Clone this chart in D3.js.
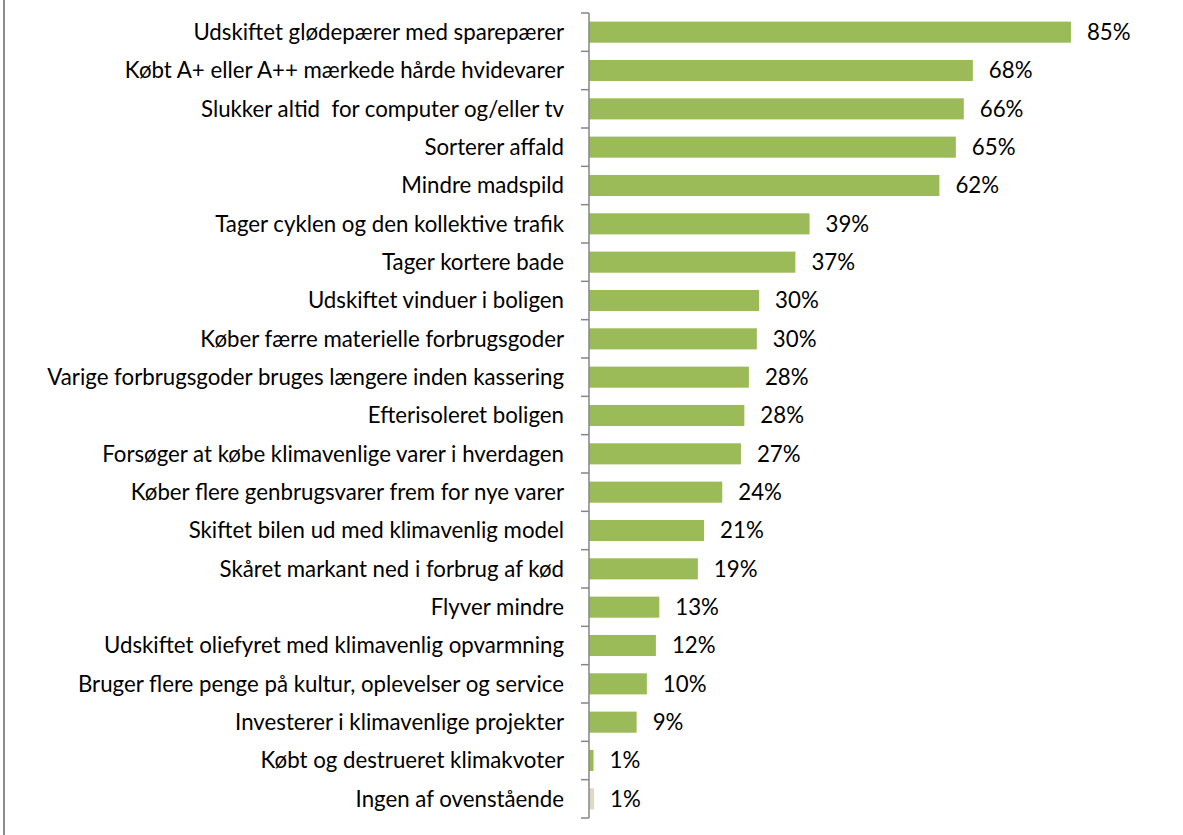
<!DOCTYPE html>
<html>
<head>
<meta charset="utf-8">
<script src="https://cdn.jsdelivr.net/npm/d3@7"></script>
<style>
  html, body { margin: 0; padding: 0; background: #fff; }
  svg { display: block; }
</style>
</head>
<body>
<svg id="chart" width="1183" height="835"></svg>
<script>
const categories = [
  "Udskiftet glødepærer med sparepærer",
  "Købt A+ eller A++ mærkede hårde hvidevarer",
  "Slukker altid  for computer og/eller tv",
  "Sorterer affald",
  "Mindre madspild",
  "Tager cyklen og den kollektive trafik",
  "Tager kortere bade",
  "Udskiftet vinduer i boligen",
  "Køber færre materielle forbrugsgoder",
  "Varige forbrugsgoder bruges længere inden kassering",
  "Efterisoleret boligen",
  "Forsøger at købe klimavenlige varer i hverdagen",
  "Køber flere genbrugsvarer frem for nye varer",
  "Skiftet bilen ud med klimavenlig model",
  "Skåret markant ned i forbrug af kød",
  "Flyver mindre",
  "Udskiftet oliefyret med klimavenlig opvarmning",
  "Bruger flere penge på kultur, oplevelser og service",
  "Investerer i klimavenlige projekter",
  "Købt og destrueret klimakvoter",
  "Ingen af ovenstående"
];
const values = [85, 67.7, 66.1, 64.7, 61.8, 38.9, 36.4, 30.0, 29.6, 28.2, 27.4, 26.8, 23.5, 20.3, 19.2, 12.4, 11.8, 10.2, 8.4, 0.8, 0.9];
const valueLabels = ["85%", "68%", "66%", "65%", "62%", "39%", "37%", "30%", "30%", "28%", "28%", "27%", "24%", "21%", "19%", "13%", "12%", "10%", "9%", "1%", "1%"];
const xDomain = [0, 100];

const svg = d3.select("#chart");
const fontFamily = "Lato, 'Open Sans', sans-serif";
const axisX = 589, plotTop = 13, plotBottom = 818, xMax = axisX + 567;

const x = d3.scaleLinear().domain(xDomain).range([axisX, xMax]);
const y = d3.scaleBand().domain(categories).range([plotTop, plotBottom]).paddingInner(0.45).paddingOuter(0.225);
const step = (plotBottom - plotTop) / categories.length;

// left frame line
svg.append("line").attr("x1", 4).attr("x2", 4).attr("y1", 0).attr("y2", 835)
  .attr("stroke", "#8c8c8c").attr("stroke-width", 2);

// bars
svg.append("g").selectAll("rect").data(categories).join("rect")
  .attr("x", x(0))
  .attr("y", d => y(d))
  .attr("width", (d, i) => x(values[i]) - x(0))
  .attr("height", y.bandwidth())
  .attr("fill", (d, i) => i === categories.length - 1 ? "#DDD9C3" : "#9BBB59");

// axis line + ticks at band boundaries
const ax = svg.append("g").attr("stroke", "#868686").attr("stroke-width", 1.5);
ax.append("line").attr("x1", axisX).attr("x2", axisX).attr("y1", plotTop).attr("y2", plotBottom);
d3.range(categories.length + 1).forEach(i => {
  const yy = plotTop + i * step;
  ax.append("line").attr("x1", axisX - 8).attr("x2", axisX).attr("y1", yy).attr("y2", yy);
});

// category labels
const labels = svg.append("g").selectAll("text").data(categories).join("text")
  .attr("x", 564)
  .attr("y", d => y(d) + y.bandwidth() / 2)
  .attr("dy", "0.35em")
  .attr("text-anchor", "end")
  .attr("font-family", fontFamily)
  .attr("font-size", 18)
  .attr("fill", "#000")
  .style("white-space", "pre")
  .text(d => d);

// fit font size to match reference width of longest label (~517px)
const longest = labels.nodes()[9];
const w = longest.getComputedTextLength();
const fs = 18 * 517 / w;
labels.attr("font-size", fs);

// value labels
svg.append("g").selectAll("text").data(categories).join("text")
  .attr("x", (d, i) => x(values[i]) + 16)
  .attr("y", d => y(d) + y.bandwidth() / 2)
  .attr("dy", "0.35em")
  .attr("font-family", fontFamily)
  .attr("font-size", fs)
  .attr("fill", "#000")
  .text((d, i) => valueLabels[i]);
</script>
</body>
</html>
